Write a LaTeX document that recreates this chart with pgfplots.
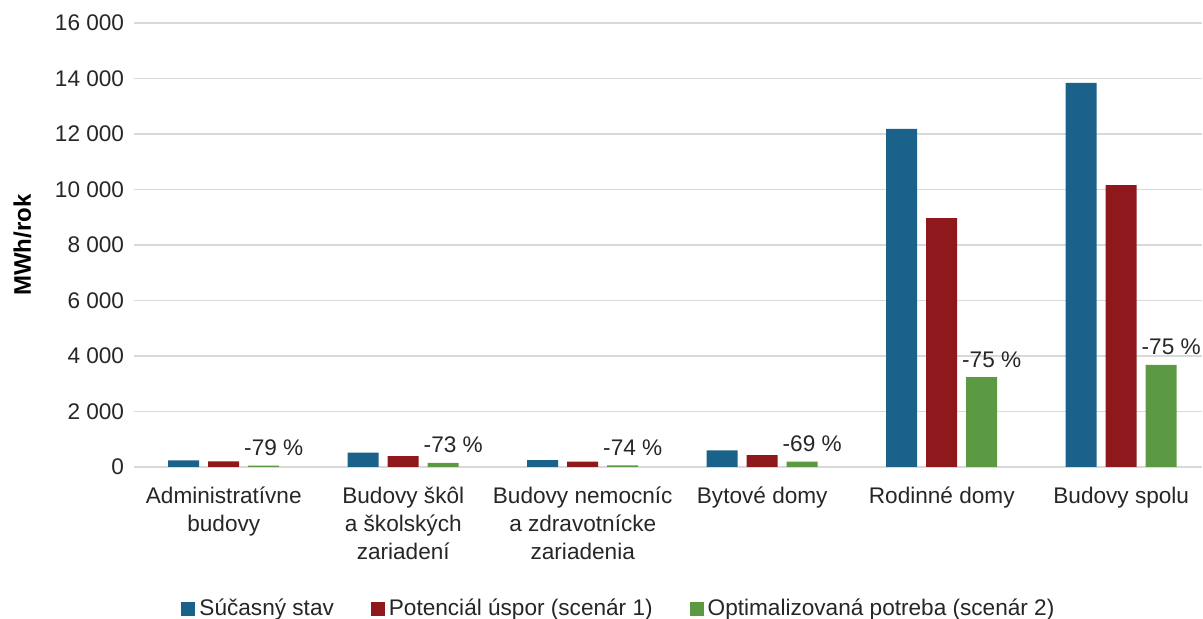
\documentclass[border=0pt]{standalone}
\usepackage{fontspec}
\setmainfont{Liberation Sans}
\usepackage{pgfplots}
\pgfplotsset{compat=1.18}
\definecolor{cblue}{HTML}{1B628B}
\definecolor{cred}{HTML}{8E181B}
\definecolor{cgreen}{HTML}{5C9943}
\definecolor{gridc}{HTML}{D9D9D9}
\definecolor{txt}{HTML}{262626}
\pgfplotsset{sqlegend/.style={legend image code/.code={\fill[##1] (0pt,-3.5pt) rectangle (7pt,3.5pt);}}}
\begin{document}
\fontsize{11.3}{14}\selectfont
\begin{tikzpicture}
\path[use as bounding box] (-67pt,-76pt) rectangle (534.5pt,233.5pt);
\begin{axis}[
  at={(0,0)}, anchor=south west,
  scale only axis, width=534pt, height=222pt,
  ybar=4.5pt, bar width=15.5pt,
  xmin=-0.5, xmax=5.45, ymin=0, ymax=16000,
  xtick={0,1,2,3,4,5},
  xticklabels={Administratívne\\budovy, Budovy škôl\\a školských\\zariadení, Budovy nemocníc\\a zdravotnícke\\zariadenia, Bytové domy, Rodinné domy, Budovy spolu},
  ytick={0,2000,4000,6000,8000,10000,12000,14000,16000},
  scaled y ticks=false,
  /pgf/number format/1000 sep={\ },
  /pgf/number format/assume math mode=true,
  axis lines*=left,
  y axis line style={draw=none},
  x axis line style={draw=gridc, line width=0.75pt},
  major tick length=0pt,
  ymajorgrids, grid style={draw=gridc, line width=0.75pt},
  tick label style={text=txt, font=\fontsize{11.3}{14}\selectfont},
  yticklabel style={xshift=-1pt},
  xticklabel style={align=center, yshift=-6pt},
  every axis y label/.style={at={(axis description cs:0,0.5)}, xshift=-55.75pt, rotate=90, anchor=center, font=\fontsize{12}{14}\selectfont\bfseries, text=black},
  ylabel={MWh/rok},
  legend style={at={(0.455,-0.32)}, anchor=center, draw=none, legend columns=-1,
    font=\fontsize{11.3}{14}\selectfont, text=txt,
    /tikz/every even column/.append style={column sep=16.5pt}},
]
\addplot[fill=cblue, draw=none, sqlegend] coordinates {(0,240) (1,515) (2,252) (3,600) (4,12180) (5,13840)};
\addlegendentry{Súčasný stav}
\addplot[fill=cred, draw=none, sqlegend] coordinates {(0,200) (1,390) (2,190) (3,430) (4,8970) (5,10160)};
\addlegendentry{Potenciál úspor (scenár 1)}
\addplot[fill=cgreen, draw=none, sqlegend,
  nodes near coords, point meta=explicit symbolic,
  nodes near coords style={anchor=base, yshift=5pt, xshift=5pt, text=txt, font=\fontsize{11.3}{14}\selectfont}]
  coordinates {(0,50) [-79 \%] (1,145) [-73 \%] (2,60) [-74 \%] (3,190) [-69 \%] (4,3240) [-75 \%] (5,3680) [-75 \%]};
\addlegendentry{Optimalizovaná potreba (scenár 2)}
\end{axis}
\end{tikzpicture}
\end{document}
